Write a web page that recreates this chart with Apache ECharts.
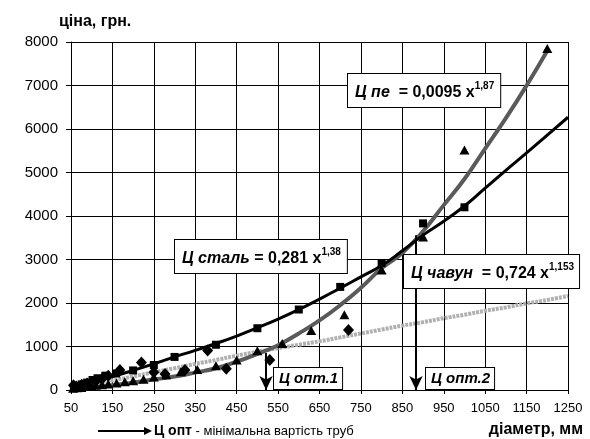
<!DOCTYPE html>
<html><head><meta charset="utf-8">
<script src="https://cdn.jsdelivr.net/npm/echarts@6/dist/echarts.min.js"></script>
<style>html,body{margin:0;padding:0;background:#fff}#c{width:590px;height:439px}</style>
</head><body><div id="c"></div>
<script>
const FONT = '"Liberation Sans", Arial, sans-serif';
// x positions for trend curves
const curveX = [50,100,150,200,250,300,350,400,450,500,550,600,650,700,750,800,850,900,950,1000,1050,1100,1150,1200,1250];
const steelCurve = [60,180,310,450,600,760,910,1070,1240,1430,1630,1850,2090,2340,2600,2860,3200,3560,3880,4230,4640,5050,5450,5860,6270];
const castCurve = [60,140,220,310,410,500,600,690,790,880,960,1040,1120,1210,1300,1390,1480,1560,1650,1730,1820,1900,1990,2070,2160];
const peCurveX = [50,100,150,200,250,300,350,400,450,500,550,600,650,700,750,800,850,900,950,1000,1050,1100,1150,1200];
const peCurve = [20,60,110,170,240,310,400,500,650,830,1030,1300,1600,1950,2350,2800,3150,3650,4250,4850,5550,6250,7000,7800];
// measured points
const steelPts = [[57,60],[76,130],[89,170],[102,230],[114,270],[133,330],[159,380],[200,450],[250,575],[300,760],[400,1040],[500,1420],[600,1850],[700,2370],[800,2920],[900,3830],[1000,4200]];
const castPts = [[56,110],[63,80],[76,120],[89,150],[110,200],[125,260],[140,330],[168,460],[220,630],[250,410],[277,370],[325,460],[380,910],[425,490],[530,690],[720,1380]];
const pePts = [[55,40],[65,50],[75,60],[90,80],[100,90],[110,110],[125,120],[140,140],[160,160],[180,190],[200,210],[225,250],[250,300],[280,350],[315,420],[355,470],[400,560],[450,690],[500,900],[560,1070],[630,1370],[710,1730],[800,2760],[900,3520],[1000,5520],[1200,7850]];
// optimum arrows
const optX = [521, 883];
const optTop = [850, 3560];

function zip(xs, ys){ return ys.map((v,i)=>[xs[i], v]); }

const chart = echarts.init(document.getElementById('c'));
const boxStyle = {
  backgroundColor:'#fff', borderColor:'#000', borderWidth:1,
  rich:{
    n:{fontFamily:FONT,fontSize:16,fontWeight:'bold',fontStyle:'italic',fill:'#000',color:'#000',lineHeight:20,verticalAlign:'bottom'},
    b:{fontFamily:FONT,fontSize:16,fontWeight:'bold',fill:'#000',color:'#000',lineHeight:20,verticalAlign:'bottom'},
    s:{fontFamily:FONT,fontSize:10,fontWeight:'bold',fill:'#000',color:'#000',lineHeight:20,verticalAlign:'top'}
  }
};
function box(left, top, name, eq, sup, pad){
  return {type:'text', left, top, z:100, style:Object.assign({}, boxStyle, {
    text:'{n|'+name+'}{b|'+eq+'}{s|'+sup+'}', padding:pad
  })};
}
chart.setOption({
  animation:false,
  grid:{left:71, right:22, top:42, bottom:49},
  xAxis:{type:'value', min:50, max:1250, interval:100,
    axisLine:{show:true, lineStyle:{color:'#000', width:1}},
    axisTick:{show:true, length:4, lineStyle:{color:'#000'}},
    axisLabel:{fontFamily:FONT, fontSize:13, color:'#000', margin:12, formatter:v=>String(v)},
    splitLine:{show:true, lineStyle:{color:'#000', width:1}}},
  yAxis:{type:'value', min:0, max:8000, interval:1000,
    axisLine:{show:true, lineStyle:{color:'#000', width:1}},
    axisTick:{show:true, length:5, lineStyle:{color:'#000'}},
    axisLabel:{fontFamily:FONT, fontSize:15, color:'#000', margin:13, formatter:v=>String(v)},
    splitLine:{show:true, lineStyle:{color:'#000', width:1}}},
  series:[
    {type:'line', data:zip(curveX, castCurve), showSymbol:false, smooth:true, z:3,
      lineStyle:{color:'#b0b0b0', width:4, type:[3,1], opacity:1}},
    {type:'line', data:zip(peCurveX, peCurve), showSymbol:false, smooth:true, z:4,
      lineStyle:{color:'#5a5a5a', width:4, opacity:1}},
    {type:'line', data:zip(curveX, steelCurve), showSymbol:false, smooth:true, z:5,
      lineStyle:{color:'#000', width:3, opacity:1}},
    {type:'scatter', data:steelPts, symbol:'rect', symbolSize:8, z:6, itemStyle:{color:'#000', opacity:1}},
    {type:'scatter', data:castPts, symbol:'diamond', symbolSize:[11,12], z:6, itemStyle:{color:'#000', opacity:1}},
    {type:'scatter', data:pePts, symbol:'triangle', symbolSize:[10,9], z:6, itemStyle:{color:'#000', opacity:1}},
    {type:'line', data:[], z:8,
      markLine:{silent:true, symbol:['none','arrow'], symbolSize:[10,14], label:{show:false},
        lineStyle:{color:'#000', width:2, type:'solid', opacity:1},
        data: optX.map((x,i)=>[{coord:[x, optTop[i]]},{coord:[x, 0]}])}}
  ],
  graphic:[
    {type:'text', left:59, top:14, style:{text:'ціна, грн.', fontFamily:FONT, fontSize:16, fontWeight:'bold', fill:'#000'}},
    box(347, 73, 'Ц пе ', ' = 0,0095 x', '1,87', [7,6,6,7]),
    box(174, 239, 'Ц сталь', ' = 0,281 x', '1,38', [7,6,6,7]),
    box(403, 254, 'Ц чавун ', ' = 0,724 x', '1,153', [7,5,6,7]),
    {type:'text', left:273, top:367, z:100, style:{text:'Ц опт.1', fontFamily:FONT, fontSize:15, fontWeight:'bold', fontStyle:'italic', fill:'#000', backgroundColor:'#fff', borderColor:'#000', borderWidth:1, padding:[3,4,3,5]}},
    {type:'text', left:425, top:367, z:100, style:{text:'Ц опт.2', fontFamily:FONT, fontSize:15, fontWeight:'bold', fontStyle:'italic', fill:'#000', backgroundColor:'#fff', borderColor:'#000', borderWidth:1, padding:[3,4,3,5]}},
    {type:'line', shape:{x1:98, y1:431, x2:146, y2:431}, style:{stroke:'#000', lineWidth:2}},
    {type:'polygon', shape:{points:[[144,427],[152,431],[144,435]]}, style:{fill:'#000'}},
    {type:'text', left:154, top:424, style:{text:'{b|Ц опт}{n| - мінімальна вартість труб}', rich:{
      b:{fontFamily:FONT, fontSize:14, fontWeight:'bold', fill:'#000', color:'#000'},
      n:{fontFamily:FONT, fontSize:13, fill:'#000', color:'#000'}}}},
    {type:'text', right:7, top:422, style:{text:'діаметр, мм', fontFamily:FONT, fontSize:16, fontWeight:'bold', fill:'#000'}}
  ]
});
</script></body></html>
